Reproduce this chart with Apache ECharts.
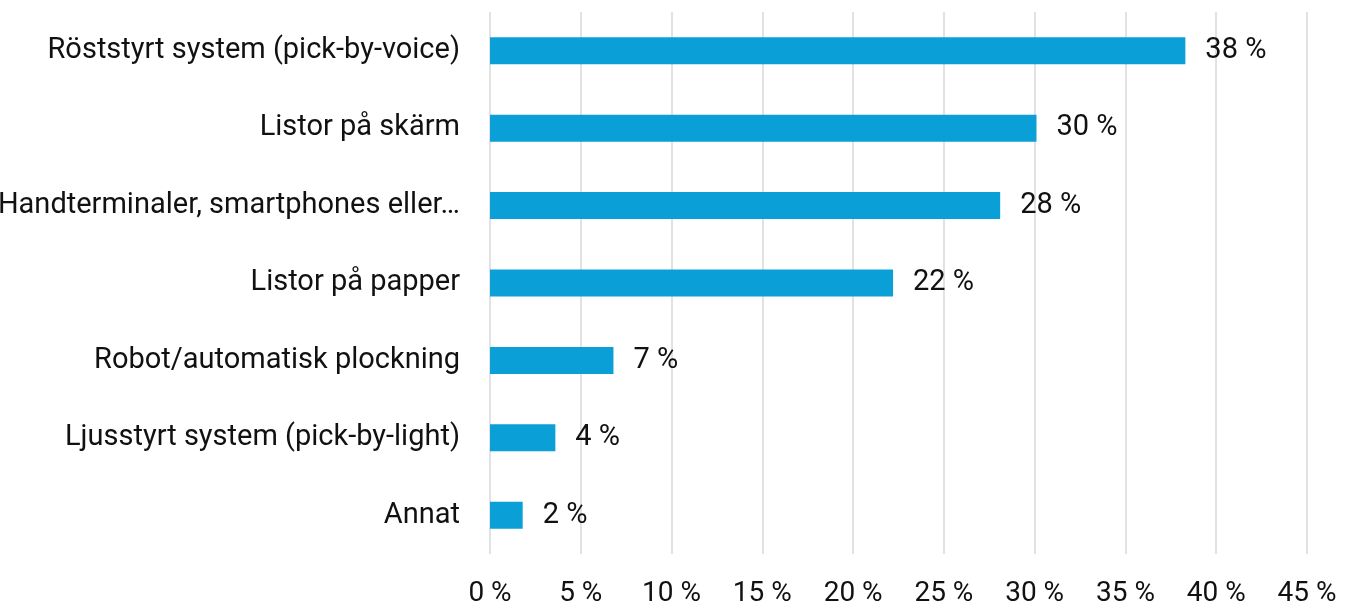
<!DOCTYPE html>
<html>
<head>
<meta charset="utf-8">
<script src="https://cdn.jsdelivr.net/npm/echarts@6/dist/echarts.min.js"></script>
<style>
  html, body { margin: 0; padding: 0; background: #fff; }
  #chart { width: 1351px; height: 608px; }
</style>
</head>
<body>
<div id="chart"></div>
<script>
// Picking methods, share of respondents (%)
const categories = [
  'Röststyrt system (pick-by-voice)',
  'Listor på skärm',
  'Handterminaler, smartphones eller…',
  'Listor på papper',
  'Robot/automatisk plockning',
  'Ljusstyrt system (pick-by-light)',
  'Annat'
];
const values = [38.3, 30.1, 28.1, 22.2, 6.8, 3.6, 1.8];
const axisMax = 45;
const axisStep = 5;

const FONT = 'Roboto';
const TEXT = '#111';
const chart = echarts.init(document.getElementById('chart'), null, { renderer: 'canvas' });

chart.setOption({
  animation: false,
  grid: {
    left: 490, right: 44, top: 12, bottom: 54,
    containLabel: false,
    outerBoundsMode: 'none'
  },
  xAxis: {
    type: 'value',
    min: 0,
    max: axisMax,
    interval: axisStep,
    axisLine: { show: false },
    axisTick: { show: false },
    splitLine: { show: true, lineStyle: { color: '#d9d9d9', width: 1.5 } },
    axisLabel: {
      margin: 26,
      fontFamily: FONT,
      fontSize: 28,
      color: TEXT,
      formatter: v => v + ' %'
    }
  },
  yAxis: {
    type: 'category',
    data: categories,
    inverse: true,
    axisLine: { show: false },
    axisTick: { show: false },
    axisLabel: {
      margin: 30,
      fontFamily: FONT,
      fontSize: 29,
      color: TEXT
    }
  },
  series: [{
    type: 'bar',
    data: values,
    barWidth: 27,
    itemStyle: { color: '#0a9fd6' },
    label: {
      show: true,
      position: 'right',
      distance: 20,
      fontFamily: FONT,
      fontSize: 29,
      color: TEXT,
      formatter: p => Math.round(p.value) + ' %'
    }
  }]
});
</script>
</body>
</html>
